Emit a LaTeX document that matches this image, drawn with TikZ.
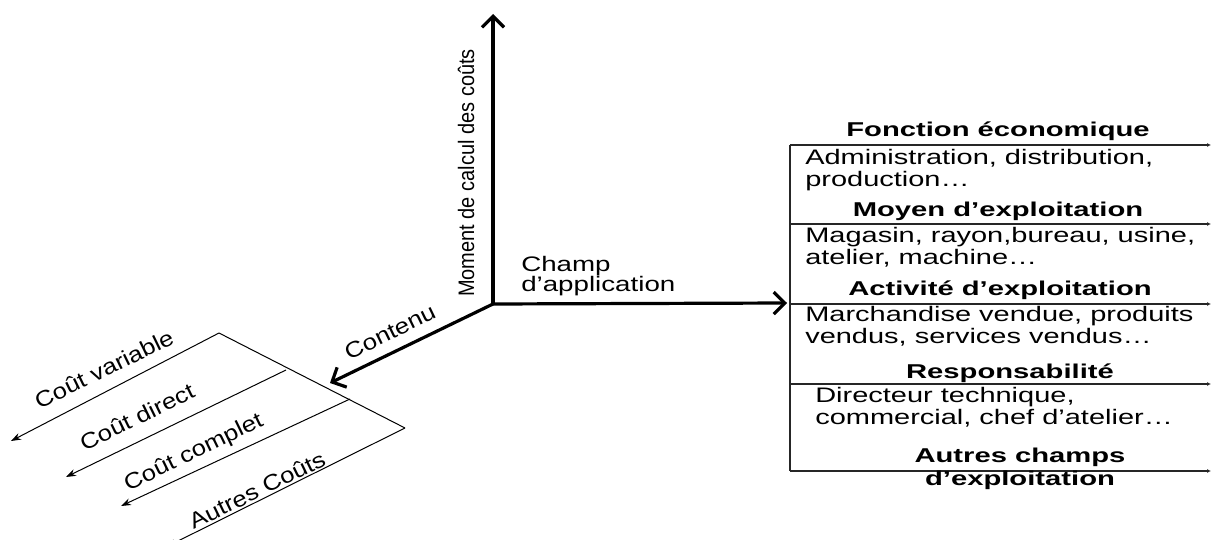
\documentclass[tikz,border=0pt]{standalone}
\usepackage{fontspec}
\setmainfont{Liberation Sans}
\usepackage{graphicx}
\usetikzlibrary{arrows.meta}
\newcommand{\etire}[1]{\scalebox{1.17}[1]{#1}}

\begin{document}
\begin{tikzpicture}[x=1pt,y=-1pt]
\tikzstyle{every node}=[inner sep=0pt]
\tikzstyle{axe}=[line width=3.2pt,-{Straight Barb[length=11pt,width=22pt]}]
\tikzstyle{cout}=[line width=1pt,-{Stealth[length=10pt,width=7pt]}]
\tikzstyle{champ}=[line width=1.3pt,draw=black!85,-{Latex[length=4pt,width=4pt]}]
\tikzstyle{titre}=[font=\fontsize{20}{23}\selectfont\bfseries,xscale=1.46,align=center]
\tikzstyle{texte}=[font=\fontsize{21}{22}\selectfont,xscale=1.38,align=left,anchor=west]
\tikzstyle{etiq}=[font=\fontsize{22}{24}\selectfont,rotate=26]
\useasboundingbox (0,0) rectangle (1211,540);

% les trois axes
\coordinate (o) at (493,304);
\coordinate (haut) at (493,14);
\coordinate (droite) at (787,303);
\coordinate (gauche) at (330,383);
\draw[axe] (o) -- (haut);
\draw[axe] (o) -- (droite);
\draw[axe] (o) -- (gauche);
\node[rotate=90,font=\fontsize{20}{22}\selectfont] (moment) at (466,173) {\scalebox{1}[1.12]{Moment de calcul des coûts}};
\node[texte,font=\fontsize{21}{19}\selectfont,xscale=1.32/1.38] (champapp) at (521,276) {Champ\\d’application};
\node[etiq] (contenu) at (390,332) {\scalebox{1.18}[1]{Contenu}};

% contenu des couts
\coordinate (p0) at (219,333);
\coordinate (p1) at (286,370);
\coordinate (p2) at (350,399);
\coordinate (p3) at (405,428);
\coordinate (t0) at (11,441);
\coordinate (t1) at (66,477);
\coordinate (t2) at (121,506);
\coordinate (t3) at (166,547);
\draw[line width=1pt] (p0) -- (p3);
\foreach \i in {0,...,3} \draw[cout] (p\i) -- (t\i);
\node[etiq] (variable) at (104,369) {\etire{Coût variable}};
\node[etiq] (direct) at (137,417) {\etire{Coût direct}};
\node[etiq] (complet) at (194,453) {\etire{Coût complet}};
\node[etiq] (autrescouts) at (257,490) {\etire{Autres Coûts}};

% champ d'application
\draw[line width=1.3pt,draw=black!85] (790,145) -- (790,471);
\foreach \y in {145,224,304,384,471} \draw[champ] (790,\y) -- (1211,\y);
\node[titre] (fonction) at (998,131) {Fonction économique};
\node[texte] (fonctxt) at (805,170) {Administration, distribution,\\production…};
\node[titre] (moyen) at (998,211) {Moyen d’exploitation};
\node[texte] (moyentxt) at (805,247) {Magasin, rayon,bureau, usine,\\atelier, machine…};
\node[titre] (activite) at (1000,290) {Activité d’exploitation};
\node[texte] (activtxt) at (805,326) {Marchandise vendue, produits\\vendus, services vendus…};
\node[titre] (respons) at (1010,373) {Responsabilité};
\node[texte] (responstxt) at (815,407) {Directeur technique,\\commercial, chef d’atelier…};
\node[titre] (autres) at (1020,469) {Autres champs\\d’exploitation};
\end{tikzpicture}
\end{document}
